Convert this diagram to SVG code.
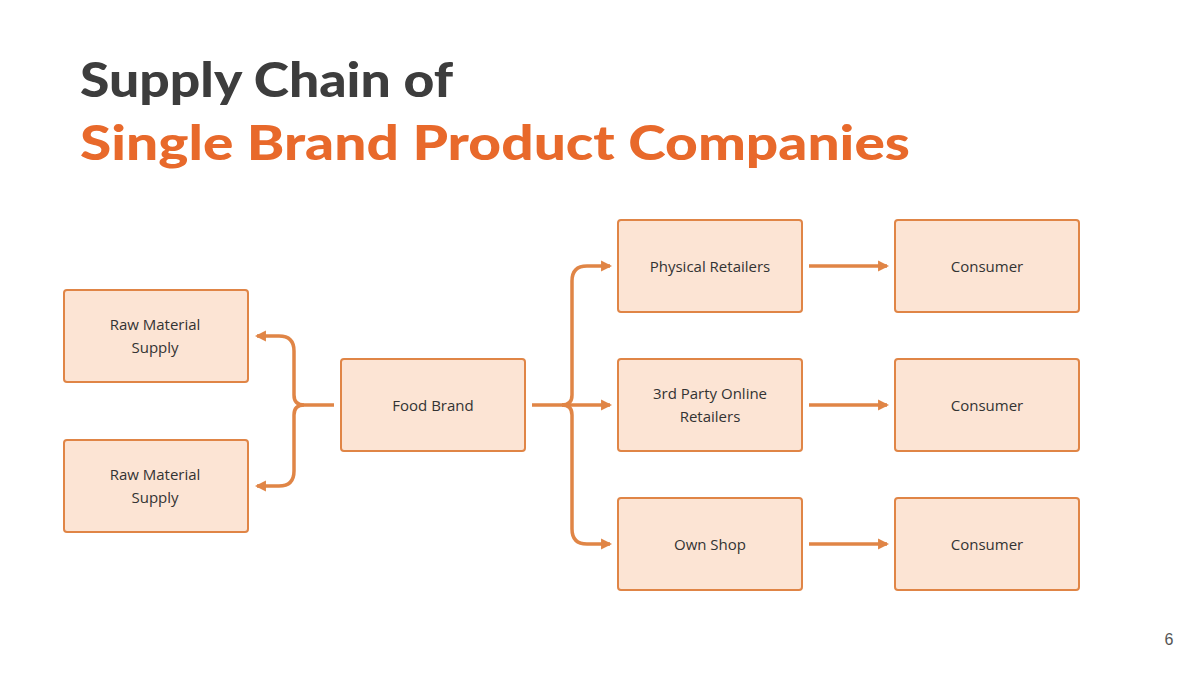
<svg xmlns="http://www.w3.org/2000/svg" width="1200" height="675" viewBox="0 0 1200 675">
<defs>
<style>
.n rect{fill:#FCE4D4;stroke:#E08546;stroke-width:2}
.n text{font-family:"Open Sans","DejaVu Sans",sans-serif;font-size:15px;fill:#333;text-anchor:middle}
.c path{fill:none;stroke:#E08546;stroke-width:3.5;stroke-linejoin:round}
.t{font-family:Lato,"Open Sans",sans-serif;font-weight:900;font-size:48px}
</style>
<marker id="a" viewBox="0 0 10 10" refX="8" refY="5" markerWidth="3.2" markerHeight="3.2" orient="auto"><path d="M0,0L10,5L0,10z" fill="#E08546"/></marker>
</defs>
<rect width="1200" height="675" fill="#fff"/>
<text class="t" x="80" y="97" fill="#3D3D3D" textLength="373" lengthAdjust="spacingAndGlyphs">Supply Chain of</text>
<text class="t" x="80" y="160" fill="#E8692B" textLength="830" lengthAdjust="spacingAndGlyphs">Single Brand Product Companies</text>
<g id="raw1" class="n"><rect x="64" y="290" width="184" height="92" rx="3"/><text x="155" y="330">Raw Material</text><text x="155" y="353">Supply</text></g>
<g id="raw2" class="n"><rect x="64" y="440" width="184" height="92" rx="3"/><text x="155" y="480">Raw Material</text><text x="155" y="503">Supply</text></g>
<g id="food" class="n"><rect x="341" y="359" width="184" height="92" rx="3"/><text x="433" y="411">Food Brand</text></g>
<g id="phys" class="n"><rect x="618" y="220" width="184" height="92" rx="3"/><text x="710" y="272">Physical Retailers</text></g>
<g id="third" class="n"><rect x="618" y="359" width="184" height="92" rx="3"/><text x="710" y="399">3rd Party Online</text><text x="710" y="422">Retailers</text></g>
<g id="own" class="n"><rect x="618" y="498" width="184" height="92" rx="3"/><text x="710" y="550">Own Shop</text></g>
<g id="c1" class="n"><rect x="895" y="220" width="184" height="92" rx="3"/><text x="987" y="272">Consumer</text></g>
<g id="c2" class="n"><rect x="895" y="359" width="184" height="92" rx="3"/><text x="987" y="411">Consumer</text></g>
<g id="c3" class="n"><rect x="895" y="498" width="184" height="92" rx="3"/><text x="987" y="550">Consumer</text></g>
<g id="connectors" class="c">
<path d="M334,405H304Q294,405 294,395V351Q294,336 279,336H257" marker-end="url(#a)"/>
<path d="M304,405Q294,405 294,415V471Q294,486 279,486H257" marker-end="url(#a)"/>
<path d="M532,405H562Q572,405 572,395V281Q572,266 587,266H610" marker-end="url(#a)"/>
<path d="M562,405H610" marker-end="url(#a)"/>
<path d="M562,405Q572,405 572,415V529Q572,544 587,544H610" marker-end="url(#a)"/>
<path d="M809,266H887" marker-end="url(#a)"/>
<path d="M809,405H887" marker-end="url(#a)"/>
<path d="M809,544H887" marker-end="url(#a)"/>
</g>
<text x="1169" y="645" font-family="Liberation Sans,sans-serif" font-size="16" fill="#555" text-anchor="middle">6</text>
</svg>
